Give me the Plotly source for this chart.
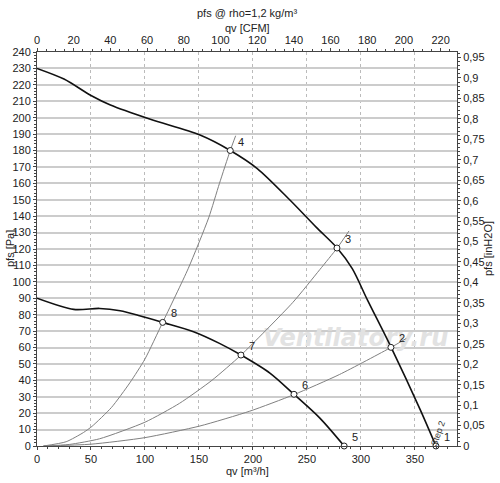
import plotly.graph_objects as go

# fan curves, qv [m3/h] vs pfs [Pa]
high_q = [0, 25, 50, 68, 105, 151, 179, 204, 234, 259, 278, 292, 306, 328, 355, 369.5]
high_p = [230, 223.5, 213.5, 207.7, 199, 189.4, 180, 169, 150, 133, 120.6, 108, 89, 60.1, 22, 0]

low_q = [0, 34, 58, 77, 95, 116.4, 145, 169, 189, 216, 238, 262, 284.5]
low_p = [90, 83.2, 83.8, 82.4, 79.4, 75.3, 69.6, 62.5, 55.4, 44.3, 31.5, 17, 0]

# system curves
sysA_q = [6, 27, 43, 51, 69, 86, 100, 116.4, 140, 159, 169, 179, 184]
sysA_p = [0, 2.6, 8.2, 12, 23.5, 38.5, 53, 75.3, 108, 139, 160, 180, 189]
sysB_q = [6, 30, 58, 100, 132, 162, 189, 237, 262, 278, 289]
sysB_p = [0, 0.95, 4.4, 14.5, 26, 40, 55.4, 87.5, 107.5, 120.6, 131]
sysC_q = [6, 50, 100, 151, 197, 238, 280, 328, 342]
sysC_p = [0, 1.1, 5.1, 12.2, 21.2, 31.3, 43.5, 60.1, 65.5]

# operating points
pt_labels = ["1", "2", "3", "4", "5", "6", "7", "8"]
pt_q = [369.5, 327.8, 277.8, 179, 284.5, 238, 188.9, 116.4]
pt_p = [0, 60.1, 120.6, 180, 0, 31.5, 55.4, 75.3]

Q_MAX = 389
P_MAX = 240
CFM = 1.699
PA_PER_INH2O = 249.089

font = "Liberation Sans, Arial, sans-serif"
fig = go.Figure()

# watermark first so it sits under the curves
fig.add_trace(go.Scatter(x=[295], y=[64.5], mode="text", text=["<b><i>Ventilatory.ru</i></b>"],
                         textfont=dict(size=24, color="#e2e2e2", family="DejaVu Sans"),
                         hoverinfo="skip", cliponaxis=False))

for q, p in [(sysA_q, sysA_p), (sysB_q, sysB_p), (sysC_q, sysC_p)]:
    fig.add_trace(go.Scatter(x=q, y=p, mode="lines",
                             line=dict(color="#808080", width=1, shape="spline", smoothing=0.6),
                             hoverinfo="skip", cliponaxis=False))

for q, p in [(high_q, high_p), (low_q, low_p)]:
    fig.add_trace(go.Scatter(x=q, y=p, mode="lines",
                             line=dict(color="#111111", width=1.6, shape="spline", smoothing=0.8),
                             hoverinfo="skip"))

fig.add_trace(go.Scatter(x=pt_q, y=pt_p, mode="markers", cliponaxis=False,
                         marker=dict(symbol="circle", size=6, color="white", line=dict(color="#222", width=1))))

for lab, q, p in zip(pt_labels, pt_q, pt_p):
    fig.add_annotation(x=q, y=p, text=lab, showarrow=False, xshift=11, yshift=9,
                       font=dict(size=11, color="#222"))

# secondary axes just to carry the CFM and inH2O scales
fig.add_trace(go.Scatter(x=[0], y=[0], xaxis="x2", yaxis="y2", mode="markers",
                         marker=dict(opacity=0), hoverinfo="skip"))

fig.add_annotation(x=371, y=7.5, text="Step 2", textangle=-70, showarrow=False,
                   font=dict(size=9, color="#333"))

tickfont = dict(size=11, color="#222", family=font)
fig.update_layout(
    width=500, height=483,
    margin=dict(l=37, r=43, t=52, b=37),
    paper_bgcolor="white", plot_bgcolor="white",
    showlegend=False,
    separators=",.",
    font=dict(family=font, size=11, color="#222"),
    xaxis=dict(range=[0, Q_MAX], dtick=50, showgrid=True, gridcolor="#bbbbbb", griddash="dot", gridwidth=1,
               showline=True, linecolor="#444", ticks="outside", ticklen=3, tickfont=tickfont,
               minor=dict(dtick=10, ticks="outside", ticklen=2), zeroline=False),
    xaxis2=dict(range=[0, Q_MAX / CFM], dtick=20, overlaying="x", side="top", showgrid=False,
                showline=True, linecolor="#444", ticks="outside", ticklen=3, tickfont=tickfont,
                minor=dict(dtick=5, ticks="outside", ticklen=2), zeroline=False),
    yaxis=dict(range=[0, P_MAX], dtick=10, showgrid=True, gridcolor="#cccccc", gridwidth=1.5,
               showline=True, linecolor="#444", ticks="outside", ticklen=3, tickfont=tickfont,
               minor=dict(dtick=2, ticks="outside", ticklen=2), zeroline=False),
    yaxis2=dict(range=[0, P_MAX / PA_PER_INH2O], dtick=0.05, overlaying="y", side="right", showgrid=False,
                showline=True, linecolor="#444", ticks="outside", ticklen=3, tickfont=tickfont,
                minor=dict(dtick=0.01, ticks="outside", ticklen=2), zeroline=False),
)

titles = [
    (0.5, 1, 0, 39, 0, "pfs @ rho=1,2 kg/m³"),
    (0.5, 1, 0, 24, 0, "qv [CFM]"),
    (0.5, 0, 0, -25, 0, "qv [m³/h]"),
    (0, 0.5, -27, 0, -90, "pfs [Pa]"),
    (1, 0.5, 31, 0, -90, "pfs [inH2O]"),
]
for x, y, xs, ys, ang, txt in titles:
    fig.add_annotation(xref="paper", yref="paper", x=x, y=y, xshift=xs, yshift=ys, text=txt,
                       textangle=ang, xanchor="center", yanchor="middle", showarrow=False,
                       font=dict(size=11, color="#222"))

fig.write_html("out.html", config={"displayModeBar": False},
               post_script="document.body.style.margin='0';")
